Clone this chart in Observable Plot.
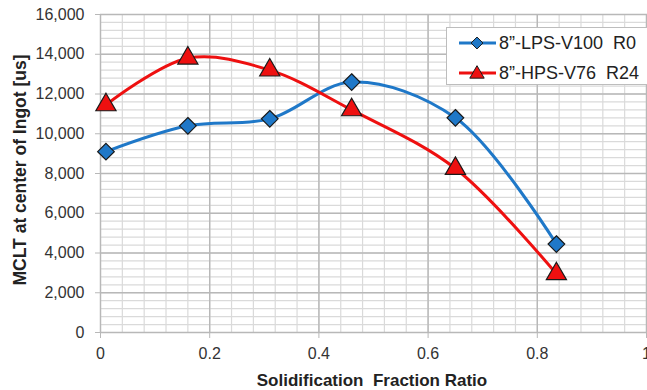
<!DOCTYPE html>
<html>
<head>
<meta charset="utf-8">
<script src="https://cdn.jsdelivr.net/npm/d3@7"></script>
<script src="https://cdn.jsdelivr.net/npm/@observablehq/plot@0.6"></script>
<style>
  body { margin: 0; background: #fff; }
  #wrap { position: relative; width: 647px; height: 390px; overflow: hidden; font-family: "Liberation Sans", Arial, sans-serif; }
  #legend { position: absolute; left: 446px; top: 27px; width: 220px; height: 58px; background: #fff; border: 1px solid #bdbdbd; box-sizing: border-box; }
  .item { position: absolute; left: 11px; height: 20px; display: flex; align-items: center; font-size: 18px; color: #222; white-space: pre; line-height: 20px; }
  .item svg { margin-right: 2px; }
</style>
</head>
<body>
<div id="wrap"></div>
<script>
const fractions = [0.01, 0.16, 0.31, 0.46, 0.65, 0.835];
const seriesNames = ["8\u201D-LPS-V100  R0", "8\u201D-HPS-V76  R24"];
const lpsValues = [9100, 10400, 10750, 12600, 10800, 4450];
const hpsValues = [11450, 13800, 13200, 11200, 8250, 2950];
const seriesColors = ["#1f78c8", "#ee1010"];
const seriesSymbols = ["diamond2", "triangle"];
const xTicks = [0, 0.2, 0.4, 0.6, 0.8, 1];
const yTicks = [0, 2000, 4000, 6000, 8000, 10000, 12000, 14000, 16000];
const xMinor = d3.range(0, 1.0001, 0.04);
const yMinor = d3.range(0, 16001, 400);

const rows = [];
fractions.forEach((f, i) => {
  rows.push({series: seriesNames[0], x: f, y: lpsValues[i]});
  rows.push({series: seriesNames[1], x: f, y: hpsValues[i]});
});

const xFmt = d => d === 0 ? "0" : d === 1 ? "1" : d3.format(".1f")(d);

const chart = Plot.plot({
  width: 647,
  height: 390,
  marginTop: 14,
  marginBottom: 58,
  marginLeft: 100,
  marginRight: 0,
  style: {fontFamily: "'Liberation Sans', Arial, sans-serif", background: "#fff", overflow: "visible"},
  x: {domain: [0, 1], range: [100, 646], ticks: xTicks, tickFormat: xFmt, label: null},
  y: {domain: [0, 16000], ticks: yTicks, tickFormat: d3.format(","), label: null},
  color: {domain: seriesNames, range: seriesColors},
  symbol: {domain: seriesNames, range: seriesSymbols},
  marks: [
    Plot.ruleX(xMinor, {stroke: "#dadada", strokeWidth: 1.2}),
    Plot.ruleY(yMinor, {stroke: "#dadada", strokeWidth: 1.2}),
    Plot.ruleX(xTicks, {stroke: "#b8b8b8", strokeWidth: 1.4}),
    Plot.ruleY(yTicks, {stroke: "#b8b8b8", strokeWidth: 1.4}),
    Plot.axisX({ticks: xTicks, tickFormat: xFmt, fontSize: 16, tickSize: 6, tickPadding: 9, stroke: "#b8b8b8", color: "#333", label: null}),
    Plot.axisY({ticks: yTicks, tickFormat: d3.format(","), fontSize: 16, tickSize: 5, tickPadding: 11, stroke: "#b8b8b8", color: "#333", label: null}),
    Plot.line(rows, {x: "x", y: "y", z: "series", stroke: "series", strokeWidth: 3, curve: "catmull-rom"}),
    Plot.dot(rows, {x: "x", y: "y", fill: "series", symbol: "series", r: 7.5, stroke: "#1a1a1a", strokeWidth: 1.2})
  ]
});

const wrap = document.getElementById("wrap");
wrap.appendChild(chart);

const svg = d3.select(chart);
svg.append("text")
  .attr("transform", "translate(26,170) rotate(-90)")
  .attr("text-anchor", "middle")
  .attr("font-size", 17.5)
  .attr("font-weight", "bold")
  .attr("fill", "#222")
  .text("MCLT at center of Ingot [us]");
svg.append("text")
  .attr("x", 372)
  .attr("y", 386)
  .attr("text-anchor", "middle")
  .attr("font-size", 17)
  .attr("font-weight", "bold")
  .attr("fill", "#222")
  .style("white-space", "pre")
  .text("Solidification  Fraction Ratio");

const legend = document.createElement("div");
legend.id = "legend";
const symPaths = [d3.symbol(d3.symbolDiamond2, 90)(), d3.symbol(d3.symbolTriangle, 90)()];
seriesNames.forEach((name, i) => {
  const item = document.createElement("div");
  item.className = "item";
  item.style.top = (i === 0 ? 5 : 35) + "px";
  item.innerHTML = `<svg width="39" height="18"><line x1="1" x2="38" y1="9" y2="9" stroke="${seriesColors[i]}" stroke-width="3"/><path transform="translate(19,${i===1?10:9})" d="${symPaths[i]}" fill="${seriesColors[i]}" stroke="#1a1a1a" stroke-width="1"/></svg>`;
  const span = document.createElement("span");
  span.textContent = name;
  item.appendChild(span);
  legend.appendChild(item);
});
wrap.appendChild(legend);
</script>
</body>
</html>
